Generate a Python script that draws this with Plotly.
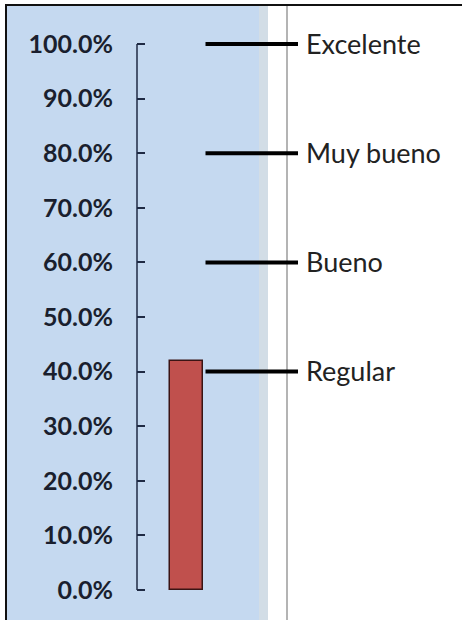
import plotly.graph_objects as go

# ---- data ----
categories = ["Resultado"]
values = [42.0]
level_values = [100, 80, 60, 40]
level_labels = ["Excelente", "Muy bueno", "Bueno", "Regular"]
tick_values = [0, 10, 20, 30, 40, 50, 60, 70, 80, 90, 100]
tick_labels = ["0.0%", "10.0%", "20.0%", "30.0%", "40.0%", "50.0%",
               "60.0%", "70.0%", "80.0%", "90.0%", "100.0%"]
axis_span = [0, 100]

W, H = 467, 620
L = 137
pw, ph = W - L, H
Y0PX, Y100PX = 590, 44
unit = (Y0PX - Y100PX) / 100.0
ymin = -(H - Y0PX) / unit
ymax = 100 + Y100PX / unit

def px(x):
    return (x - L) / pw

def py(y):
    return (H - y) / ph

fig = go.Figure()

fig.add_trace(go.Bar(
    x=[0], y=values, width=0.33, name=categories[0],
    marker=dict(color="#c0504d", line=dict(color="#3a1414", width=1.5)),
    showlegend=False, hoverinfo="y"))

line_x0, line_x1 = 0.19, 1.115
for v, lab in zip(level_values, level_labels):
    fig.add_trace(go.Scatter(
        x=[line_x0, line_x1], y=[v, v], mode="lines",
        line=dict(color="black", width=4), showlegend=False,
        hoverinfo="skip"))
    fig.add_annotation(x=line_x1, y=v, text=lab, showarrow=False,
                       xanchor="left", yanchor="middle", xshift=6, yshift=1,
                       font=dict(family="Lato", size=27, color="#222222"))

shapes = [
    dict(type="rect", xref="paper", yref="paper", x0=px(6), x1=px(259),
         y0=py(H + 5), y1=py(5), fillcolor="#c5d9f0", line=dict(width=0),
         layer="below"),
    dict(type="rect", xref="paper", yref="paper", x0=px(259), x1=px(268),
         y0=py(H + 5), y1=py(5), fillcolor="#d2dde6", line=dict(width=0),
         layer="below"),
    dict(type="line", xref="paper", yref="paper", x0=px(287), x1=px(287),
         y0=py(H + 5), y1=py(5), line=dict(color="#b4b4b4", width=2),
         layer="below"),
    dict(type="line", xref="paper", yref="paper", x0=px(5), x1=px(462),
         y0=py(5), y1=py(5), line=dict(color="#111111", width=2)),
    dict(type="line", xref="paper", yref="paper", x0=px(6), x1=px(6),
         y0=py(4), y1=py(H + 5), line=dict(color="#111111", width=2)),
    dict(type="line", xref="paper", yref="y", x0=0, x1=0,
         y0=axis_span[0], y1=axis_span[1],
         line=dict(color="#1f2a44", width=1.5)),
]

fig.update_layout(
    width=W, height=H,
    margin=dict(l=L, r=0, t=0, b=0, autoexpand=False),
    paper_bgcolor="white", plot_bgcolor="rgba(0,0,0,0)",
    shapes=shapes, bargap=0,
    xaxis=dict(range=[-0.495, 2.805], visible=False, fixedrange=True),
    yaxis=dict(range=[ymin, ymax], tickvals=tick_values, ticktext=tick_labels,
               showgrid=False, zeroline=False, showline=False,
               ticks="inside", ticklen=8, tickwidth=1.5, tickcolor="#1f2a44",
               ticklabelstandoff=23,
               tickfont=dict(family="Lato", size=25, color="#1a1f2e",
                             weight="bold"),
               fixedrange=True),
)

fig.write_html("out.html")
